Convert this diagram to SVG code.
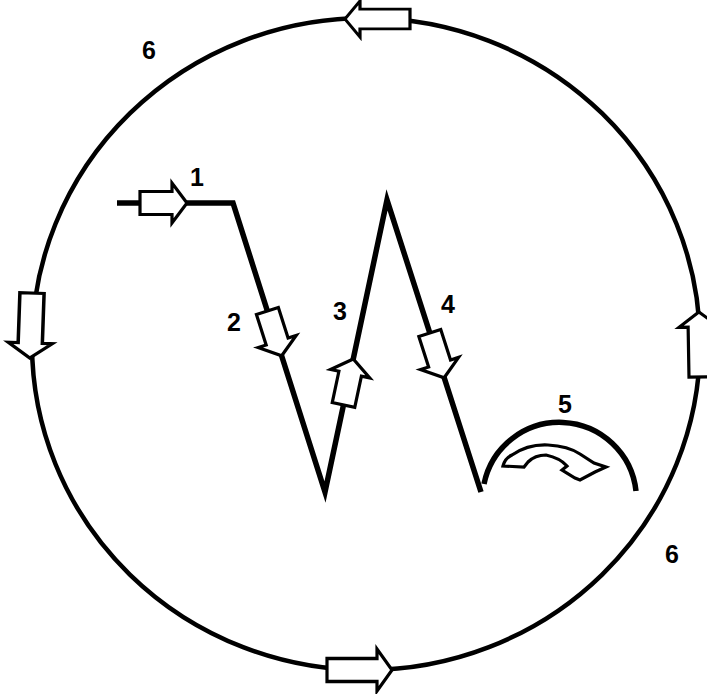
<svg xmlns="http://www.w3.org/2000/svg" xmlns:xlink="http://www.w3.org/1999/xlink" width="707" height="694" viewBox="0 0 707 694">
<style>
.ln{fill:none;stroke:#000;stroke-width:5.5;stroke-linejoin:miter;stroke-linecap:butt}
.ring{fill:none;stroke:#000;stroke-width:4.5}
.arw{fill:#fff;stroke:#000;stroke-width:3.2;stroke-linejoin:miter}
.lbl{font-family:"Liberation Sans",Arial,sans-serif;font-size:25px;font-weight:bold;fill:#000;text-anchor:middle}
</style>
<defs>
<path id="ha" d="M0,-11.5 H32 V-20 L47,0 L32,20 V11.5 H0 Z"/>
<path id="hb" d="M0,-11 H50 V-20 L65,0 L50,20 V11 H0 Z"/>
</defs>
<rect width="707" height="694" fill="#fff"/>
<g id="connectors">
<ellipse class="ring" cx="366" cy="344" rx="334" ry="326"/>
<path class="ln" d="M117,203 H233 L325,492 L387,200 L481,492"/>
<path class="ln" d="M484,484 A77,77 0 0 1 636,491"/>
</g>
<g id="arrows">
<use href="#ha" class="arw" transform="translate(140,203)"/>
<use href="#ha" class="arw" transform="translate(267.4,311) rotate(72.3)"/>
<use href="#ha" class="arw" transform="translate(343.5,405) rotate(-78)"/>
<use href="#ha" class="arw" transform="translate(429.8,333) rotate(72.2)"/>
<use href="#hb" class="arw" transform="translate(410,19) rotate(180) scale(1,0.9)"/>
<use href="#hb" class="arw" transform="translate(327,670) scale(1,1.05)"/>
<use href="#hb" class="arw" transform="translate(32,293) rotate(92) scale(1,1.1)"/>
<use href="#hb" class="arw" transform="translate(700,377) rotate(-91) scale(1,1)"/>
<path class="arw" d="M503,466 Q505,458 512,455 Q528,444 548,445 Q568,446 580,454 L594,463 L606,467 L595,472 L580,480 L575,478 L562,470 L567,466 Q560,458 546,455 Q535,455 528,462 L524,467 Z"/>
</g>
<g id="labels">
<text class="lbl" x="197" y="186">1</text>
<text class="lbl" x="234" y="331">2</text>
<text class="lbl" x="340" y="320">3</text>
<text class="lbl" x="448" y="313">4</text>
<text class="lbl" x="565" y="413">5</text>
<text class="lbl" x="149" y="59">6</text>
<text class="lbl" x="672" y="563">6</text>
</g>
</svg>
